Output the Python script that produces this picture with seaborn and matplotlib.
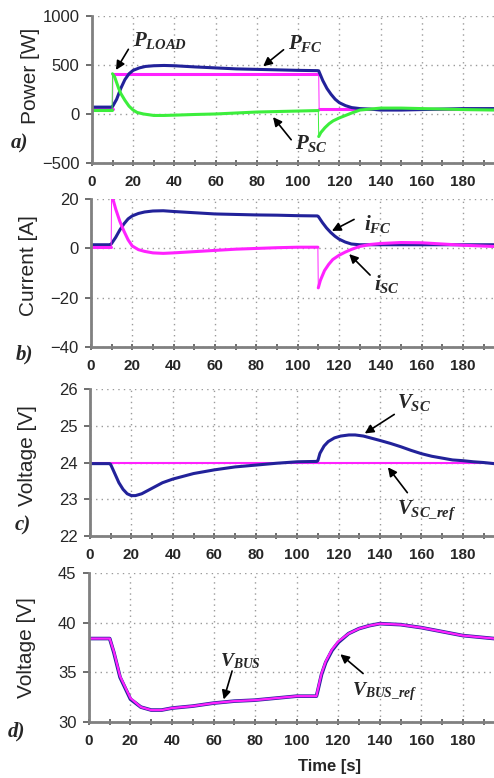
import matplotlib
matplotlib.use("Agg")
from matplotlib import pyplot
import matplotlib.ticker as ticker
import seaborn as sns

# ---- data ----
# a) power [W]
t_load = [0, 10, 10.2, 110, 110.2, 125, 195]
p_load = [50, 50, 410, 410, 55, 55, 55]

t_fc = [0, 9.5, 10, 12, 14, 16, 18, 20, 23, 26, 30, 35, 40, 50, 60, 70, 80, 90, 100, 109.5,
        110, 112, 114, 116, 118, 120, 123, 126, 130, 135, 140, 150, 160, 170, 180, 195]
p_fc = [70, 70, 75, 150, 260, 350, 410, 445, 470, 485, 492, 495, 492, 480, 470, 460, 455, 450, 445, 442,
        440, 340, 260, 200, 150, 115, 85, 65, 55, 50, 40, 40, 45, 50, 55, 55]

t_sc = [0, 9.8, 10, 11, 12, 13, 14, 16, 18, 20, 22, 25, 30, 35, 40, 50, 60, 70, 80, 90, 100, 109.8,
        110, 111, 113, 115, 117, 120, 123, 126, 130, 140, 150, 160, 170, 180, 195]
p_sc = [40, 40, 410, 380, 320, 260, 210, 140, 80, 40, 15, 0, -15, -15, -12, -5, 0, 10, 20, 25, 30, 35,
        -230, -190, -140, -100, -70, -40, -15, 10, 40, 60, 60, 55, 50, 45, 40]

# b) current [A]
t_ifc = [0, 9.5, 10, 12, 14, 16, 18, 20, 23, 26, 30, 35, 40, 50, 60, 70, 80, 90, 100, 109.5,
         110, 112, 114, 116, 118, 120, 123, 126, 130, 140, 160, 180, 195]
i_fc = [1.5, 1.5, 2, 4.5, 7.5, 10, 12, 13.2, 14.2, 14.8, 15.2, 15.3, 15, 14.5, 14, 13.8, 13.6, 13.5, 13.3, 13.2,
        13, 10.5, 8.3, 6.5, 5, 3.8, 2.6, 1.8, 1.5, 1.5, 1.5, 1.5, 1.5]

t_isc = [0, 9.8, 10, 11, 12, 14, 16, 18, 20, 23, 26, 30, 35, 40, 50, 60, 70, 80, 90, 100, 109.8,
         110, 111, 113, 115, 117, 120, 123, 126, 130, 135, 140, 150, 160, 170, 180, 195]
i_sc = [0.5, 0.5, 21, 19, 16, 11, 7, 3.5, 1, -0.5, -1.2, -1.8, -2, -1.8, -1.3, -0.8, -0.3, 0, 0.3, 0.5, 0.5,
        -16, -13, -9, -6.5, -4.5, -2.8, -1.5, -0.4, 0.8, 1.6, 2, 2.4, 2.3, 1.8, 1.3, 0.8]

# c) supercap voltage [V]
t_vref = [0, 195]
v_sc_ref = [24, 24]

t_vsc = [0, 9.5, 10, 12, 14, 16, 18, 20, 22, 25, 30, 35, 40, 50, 60, 70, 80, 90, 100, 109.5,
         110, 111, 113, 115, 118, 121, 125, 128, 132, 136, 140, 145, 150, 155, 160, 165, 170, 175, 180, 185, 190, 195]
v_sc = [23.97, 23.97, 23.95, 23.7, 23.45, 23.27, 23.15, 23.1, 23.1, 23.15, 23.3, 23.45, 23.55, 23.7, 23.8, 23.88, 23.93, 23.98, 24.02, 24.03,
        24.05, 24.25, 24.45, 24.57, 24.67, 24.72, 24.75, 24.75, 24.72, 24.66, 24.6, 24.52, 24.43, 24.33, 24.24, 24.17, 24.12, 24.07, 24.05, 24.02, 24.0, 23.97]

# d) bus voltage [V]
t_bus = [0, 10, 12, 15, 20, 25, 30, 35, 40, 50, 60, 70, 80, 90, 100, 109.5,
         110, 112, 114, 117, 120, 125, 130, 135, 140, 150, 160, 170, 180, 190, 195]
v_bus = [38.4, 38.4, 37.0, 34.5, 32.3, 31.5, 31.2, 31.2, 31.4, 31.6, 31.9, 32.1, 32.2, 32.4, 32.6, 32.6,
         33.0, 34.8, 36.0, 37.2, 38.0, 38.9, 39.4, 39.7, 39.9, 39.8, 39.5, 39.1, 38.7, 38.5, 38.4]
v_bus_ref = [38.4, 38.4, 37.1, 34.6, 32.4, 31.5, 31.2, 31.2, 31.4, 31.6, 31.9, 32.1, 32.2, 32.4, 32.6, 32.6,
             33.1, 34.9, 36.1, 37.3, 38.1, 38.9, 39.4, 39.7, 39.9, 39.8, 39.5, 39.1, 38.7, 38.5, 38.4]

BLUE = '#22229a'
MAGENTA = '#ff22ff'
GREEN = '#3cee3c'

sns.set_theme(style="ticks")
pyplot.rcParams['font.family'] = ['Liberation Sans', 'DejaVu Sans']
pyplot.rcParams['mathtext.fontset'] = 'custom'
pyplot.rcParams['mathtext.it'] = 'Liberation Serif:italic:bold'
pyplot.rcParams['mathtext.rm'] = 'Liberation Serif:bold'
pyplot.rcParams['mathtext.bf'] = 'Liberation Serif:bold'

fig = pyplot.figure(figsize=(4.94, 7.78), dpi=100)
positions = [
    [0.186, 0.7905, 0.814, 0.189],
    [0.184, 0.554, 0.816, 0.190],
    [0.182, 0.311, 0.818, 0.189],
    [0.180, 0.072, 0.820, 0.1915],
]
axes = [fig.add_axes(p) for p in positions]


def line(ax, t, v, color, lw=2.2):
    # thin trace for the whole record, thick one that skips the instant jumps
    sns.lineplot(x=t, y=v, ax=ax, color=color, lw=0.7, sort=False, estimator=None, legend=False)
    start = 0
    for i in range(1, len(t) + 1):
        if i == len(t) or t[i] - t[i - 1] <= 0.3:
            if i - start > 1:
                sns.lineplot(x=t[start:i], y=v[start:i], ax=ax, color=color, lw=lw,
                             sort=False, estimator=None, legend=False)
            start = i


def arrow(ax, text, txy, tail, head, size=15):
    ax.annotate('', xy=head, xytext=tail,
                arrowprops=dict(arrowstyle='-|>', color='black', lw=1.2, mutation_scale=13))
    ax.text(txy[0], txy[1], text, fontsize=size, ha='left', va='center')


def style(ax, ylim, ystep, ylabel, ylabel_y, letter, letter_xy):
    ax.set_xlim(0, 195)
    ax.set_ylim(*ylim)
    ax.xaxis.set_major_locator(ticker.MultipleLocator(20))
    ax.xaxis.set_minor_locator(ticker.MultipleLocator(10))
    ax.yaxis.set_major_locator(ticker.MultipleLocator(ystep))
    for s in ['top', 'right']:
        ax.spines[s].set_visible(False)
    for s in ['left', 'bottom']:
        ax.spines[s].set_color('#808080')
        ax.spines[s].set_linewidth(2)
    ax.tick_params(axis='x', which='both', direction='inout', length=5, width=1.2, color='#555555', pad=6)
    ax.tick_params(axis='y', which='major', direction='out', length=4, width=1.2, color='#555555', pad=5,
                   labelsize=12)
    for lab in ax.get_xticklabels():
        lab.set_family(['Liberation Sans Narrow', 'Liberation Sans'])
        lab.set_weight('bold')
        lab.set_fontsize(11)
    ax.grid(which='major', color='#9a9a9a', linestyle=(0, (1, 3)), linewidth=1)
    ax.set_xlabel('')
    ax.set_ylabel(ylabel, fontsize=15)
    ax.yaxis.set_label_coords(-0.13, ylabel_y)
    ax.text(letter_xy[0], letter_xy[1], letter, transform=ax.transAxes, family='Liberation Serif',
            style='italic', weight='bold', fontsize=15, ha='center', va='center')


# a) power
ax = axes[0]
line(ax, t_load, p_load, MAGENTA)
line(ax, t_fc, p_fc, BLUE)
line(ax, t_sc, p_sc, GREEN)
style(ax, (-500, 1000), 500, 'Power [W]', 0.59, 'a)', (-0.18, 0.13))
arrow(ax, r'$P_{LOAD}$', (20, 745), (18.4, 684), (11, 425))
arrow(ax, r'$P_{FC}$', (95, 724), (94, 673), (82, 469))
arrow(ax, r'$P_{SC}$', (98.4, -306), (97.5, -285), (87, -10))

# b) current
ax = axes[1]
line(ax, t_ifc, i_fc, BLUE)
line(ax, t_isc, i_sc, MAGENTA)
style(ax, (-40, 20), 20, 'Current [A]', 0.55, 'b)', (-0.165, -0.05))
arrow(ax, r'$i_{FC}$', (132, 9.9), (128.5, 12.3), (115.4, 6.6))
arrow(ax, r'$i_{SC}$', (137, -14.5), (136, -11.6), (124, -1.5))

# c) supercap voltage
ax = axes[2]
line(ax, t_vref, v_sc_ref, MAGENTA, lw=1.5)
line(ax, t_vsc, v_sc, BLUE)
style(ax, (22, 26), 1, 'Voltage [V]', 0.55, 'c)', (-0.165, 0.075))
arrow(ax, r'$V_{SC}$', (148, 25.62), (148, 25.35), (131.5, 24.75))
arrow(ax, r'$V_{SC\_ref}$', (148, 22.7), (154, 23.12), (143, 23.93))

# d) bus voltage
ax = axes[3]
line(ax, t_bus, v_bus, BLUE, lw=2.6)
line(ax, t_bus, v_bus_ref, MAGENTA, lw=1.6)
style(ax, (30, 45), 5, 'Voltage [V]', 0.5, 'd)', (-0.18, -0.067))
arrow(ax, r'$V_{BUS}$', (63, 36.1), (69.3, 35.4), (64.5, 32.0), size=14)
arrow(ax, r'$V_{BUS\_ref}$', (126.5, 33.1), (133, 34.7), (120, 37.0), size=14)

fig.text(0.666, 1 - 767 / 778, 'Time [s]', ha='center', va='center', fontsize=12, weight='bold',
         family=['Liberation Sans Narrow', 'Liberation Sans'])

fig.savefig('out.png', dpi=100)
